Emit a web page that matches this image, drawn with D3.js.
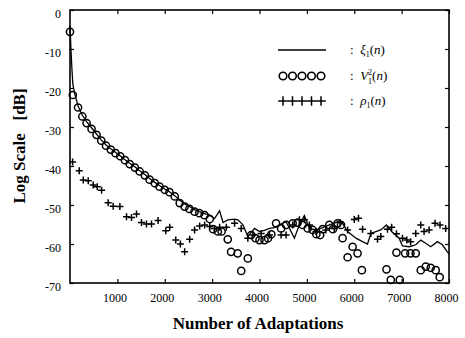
<!DOCTYPE html>
<html>
<head>
<meta charset="utf-8">
<script src="https://cdn.jsdelivr.net/npm/d3@7"></script>
<style>
  body { margin: 0; background: #fff; }
  svg text { font-family: "Liberation Serif", "DejaVu Serif", serif; fill: #000; }
</style>
</head>
<body>
<div id="chart"></div>
<script>
// xi_1(n): solid line  [n, dB]
const xiData = [
  [0, -4], [20, -10], [40, -15], [60, -19], [100, -21.5], [170, -24.6], [260, -27], [350, -28.6],
  [455, -30.2], [560, -31.8], [660, -33.3], [760, -34.6], [860, -35.6], [960, -36.5], [1060, -37.4],
  [1160, -38.4], [1260, -39.3], [1370, -40.2], [1470, -41.2], [1580, -42.2], [1680, -43.2],
  [1790, -44.2], [1890, -45], [2000, -45.9], [2100, -46.6], [2210, -47.6], [2316, -48.8],
  [2420, -49.7], [2520, -50.4], [2630, -51.2], [2730, -51.7], [2840, -52.2], [2950, -52.6],
  [3050, -53.5], [3158, -51.5], [3230, -54.5], [3330, -53.8], [3474, -53.6], [3544, -53.8],
  [3650, -55.1], [3754, -58.1], [3895, -56], [4000, -56.8], [4105, -56.5], [4210, -56],
  [4320, -55.8], [4421, -55.1], [4561, -54.3], [4737, -58.5], [4842, -55.1], [4947, -52.7],
  [5053, -56], [5193, -56.4], [5333, -55.8], [5474, -55.1], [5649, -54.3], [5754, -54.7],
  [5860, -56.8], [6035, -58.5], [6175, -59.4], [6280, -60], [6350, -57.3], [6456, -56.8],
  [6560, -56.4], [6680, -55.1], [6790, -56.8], [6947, -58.5], [7018, -60.5], [7160, -60.7],
  [7298, -60.2], [7404, -59], [7509, -59.8], [7614, -60.7], [7755, -59.4], [7860, -60.2],
  [7965, -62], [8000, -62.5]
];

// V_1^2(n): circles
const vData = [
  [0, -5.6], [60, -21.8], [170, -25], [260, -27.3], [350, -29], [455, -30.5], [560, -32],
  [660, -33.5], [760, -34.8], [860, -35.8], [960, -36.7], [1060, -37.5], [1160, -38.5],
  [1260, -39.5], [1370, -40.4], [1470, -41.4], [1580, -42.4], [1680, -43.5], [1790, -44.4],
  [1890, -45.3], [2000, -46.1], [2100, -46.7], [2210, -47.8], [2316, -49.5], [2420, -50.4],
  [2520, -51], [2630, -51.7], [2730, -52.1], [2840, -52.6], [2950, -53.6], [3020, -56.2],
  [3120, -56.8], [3200, -56.8], [3330, -58.8], [3400, -62], [3540, -62.4], [3614, -66.9],
  [3754, -63.7], [3825, -57.7], [3916, -58.5], [4000, -59], [4105, -59], [4180, -58.5],
  [4250, -57.5], [4350, -54.7], [4456, -56], [4561, -55.1], [4700, -54.7], [4807, -54.5],
  [4910, -55.1], [5018, -56], [5123, -56.4], [5200, -57.5], [5280, -57.7], [5333, -56.2],
  [5474, -55.1], [5550, -56.2], [5649, -54.7], [5720, -55.1], [5754, -58.5], [5860, -63.4],
  [5965, -60.7], [6070, -62.4], [6161, -66.7], [6680, -66.5], [6772, -69.2], [6891, -62.2],
  [6961, -69.2], [7074, -62.4], [7186, -62.4], [7298, -62.4], [7404, -66.7], [7509, -65.8],
  [7614, -66.1], [7720, -66.7], [7804, -68.5]
];

// rho_1(n): plus signs
const rhoData = [
  [55, -39], [195, -41.2], [280, -43.6], [385, -43.8], [490, -44.9], [575, -45.3], [667, -46.2],
  [806, -49.4], [912, -50.3], [1053, -50.4], [1193, -53], [1298, -53.2], [1404, -52.3],
  [1509, -54.5], [1614, -54.9], [1720, -54.9], [1859, -54], [2021, -56.6], [2105, -55.7],
  [2232, -59], [2330, -60], [2420, -62], [2526, -58.8], [2630, -56.4], [2737, -55.4],
  [2842, -55.1], [2950, -55.5], [3050, -56], [3158, -55.7], [3300, -55.7], [3474, -54.7],
  [3614, -56], [3754, -58.5], [3860, -57.7], [4035, -57.3], [4210, -57.7], [4456, -57.7],
  [4561, -57.7], [4700, -55.1], [4842, -53.8], [4947, -53.8], [5053, -55.1], [5193, -56.8],
  [5400, -56.4], [5579, -56], [5700, -54.5], [5860, -56.4], [6000, -53.7], [6090, -53.4],
  [6175, -56.2], [6350, -57.3], [6491, -58.8], [6560, -58.1], [6701, -56.2], [6790, -55.7],
  [6891, -57.4], [7018, -58.5], [7109, -59], [7190, -59.4], [7298, -57.3], [7404, -55.1],
  [7474, -56.8], [7579, -56.4], [7705, -54.7], [7810, -55.1], [7930, -56]
];

const xTicks = [1000, 2000, 3000, 4000, 5000, 6000, 7000, 8000];
const yTicks = [0, -10, -20, -30, -40, -50, -60, -70];

const legendItems = [
  { kind: 'line', label: 'ξ', sub: '1', sup: '' },
  { kind: 'circle', label: 'V', sub: '1', sup: '2' },
  { kind: 'plus', label: 'ρ', sub: '1', sup: '' }
];

const width = 465, height = 338;
const margin = { top: 10, right: 16, bottom: 55, left: 70 };

const svg = d3.select('#chart').append('svg')
  .attr('width', width)
  .attr('height', height);

const x = d3.scaleLinear().domain([0, 8000]).range([margin.left, width - margin.right]);
const y = d3.scaleLinear().domain([-70, 0]).range([height - margin.bottom, margin.top]);

// plain integer labels with ascii hyphen
const fmt = d => String(d);

// frame
svg.append('rect')
  .attr('x', x(0)).attr('y', y(0))
  .attr('width', x(8000) - x(0)).attr('height', y(-70) - y(0))
  .attr('fill', 'none').attr('stroke', '#000').attr('stroke-width', 1.6);

// axes with inward ticks
const xAxis = svg.append('g')
  .attr('transform', `translate(0,${y(-70)})`)
  .call(d3.axisBottom(x).tickValues(xTicks).tickFormat(fmt).tickSize(-4).tickPadding(10));
const xTop = svg.append('g')
  .attr('transform', `translate(0,${y(0)})`)
  .call(d3.axisTop(x).tickValues(xTicks).tickSize(-4).tickFormat(''));
const yAxis = svg.append('g')
  .attr('transform', `translate(${x(0)},0)`)
  .call(d3.axisLeft(y).tickValues(yTicks).tickFormat(fmt).tickSize(-4).tickPadding(9));
const yRight = svg.append('g')
  .attr('transform', `translate(${x(8000)},0)`)
  .call(d3.axisRight(y).tickValues(yTicks).tickSize(-4).tickFormat(''));

[xAxis, xTop, yAxis, yRight].forEach(g => {
  g.select('.domain').remove();
  g.selectAll('line').attr('stroke', '#000').attr('stroke-width', 1.2);
  g.selectAll('text').style('font-family', '"Liberation Serif", serif').style('font-size', '12px');
});
xAxis.selectAll('text').attr('dx', '-3');
yAxis.selectAll('text').attr('dy', '0.65em');

// xi line
const line = d3.line().x(d => x(d[0])).y(d => y(d[1]));
svg.append('path')
  .datum(xiData)
  .attr('d', line)
  .attr('fill', 'none')
  .attr('stroke', '#000')
  .attr('stroke-width', 1.3);

// circles
svg.append('g').selectAll('circle')
  .data(vData)
  .enter().append('circle')
  .attr('cx', d => x(d[0]))
  .attr('cy', d => y(d[1]))
  .attr('r', 3.6)
  .attr('fill', 'none')
  .attr('stroke', '#000')
  .attr('stroke-width', 1.5);

// plus signs
function plusPath(s) {
  return `M${-s},0H${s}M0,${-s}V${s}`;
}
svg.append('g').selectAll('path')
  .data(rhoData)
  .enter().append('path')
  .attr('transform', d => `translate(${x(d[0])},${y(d[1])})`)
  .attr('d', plusPath(3.5))
  .attr('stroke', '#000')
  .attr('stroke-width', 1.5);

// axis titles
svg.append('text')
  .attr('x', 258).attr('y', 329)
  .attr('text-anchor', 'middle')
  .style('font-size', '17px').style('font-weight', 'bold')
  .text('Number of Adaptations');

svg.append('text')
  .attr('transform', 'translate(25,146) rotate(-90)')
  .attr('text-anchor', 'middle')
  .attr('xml:space', 'preserve')
  .style('font-size', '17px').style('font-weight', 'bold')
  .text('Log Scale   [dB]');

// legend
const legend = svg.append('g');
const rowY = [50, 76, 101];
legendItems.forEach((item, i) => {
  const ly = rowY[i];
  const g = legend.append('g');
  if (item.kind === 'line') {
    g.append('line').attr('x1', 278).attr('x2', 326).attr('y1', ly).attr('y2', ly)
      .attr('stroke', '#000').attr('stroke-width', 1.5);
  } else {
    d3.range(5).forEach(k => {
      const cx = 283 + k * 9.5;
      if (item.kind === 'circle') {
        g.append('circle').attr('cx', cx).attr('cy', ly).attr('r', 3.8)
          .attr('fill', 'none').attr('stroke', '#000').attr('stroke-width', 1.6);
      } else {
        g.append('path').attr('transform', `translate(${cx},${ly})`)
          .attr('d', plusPath(4.8)).attr('stroke', '#000').attr('stroke-width', 1.5);
      }
    });
  }
  const t = g.append('text').attr('x', 350).attr('y', ly + 4).attr('xml:space', 'preserve')
    .style('font-size', '13px');
  t.append('tspan').text(':  ');
  t.append('tspan').style('font-style', 'italic').text(item.label);
  if (item.sup) {
    t.append('tspan').style('font-size', '8px').attr('dy', -5).text(item.sup);
    t.append('tspan').style('font-size', '8px').attr('dx', -4).attr('dy', 9).text(item.sub);
    t.append('tspan').attr('dy', -4).text('(');
  } else {
    t.append('tspan').style('font-size', '8px').attr('dy', 3).text(item.sub);
    t.append('tspan').attr('dy', -3).text('(');
  }
  t.append('tspan').style('font-style', 'italic').text('n');
  t.append('tspan').text(')');
});
</script>
</body>
</html>
